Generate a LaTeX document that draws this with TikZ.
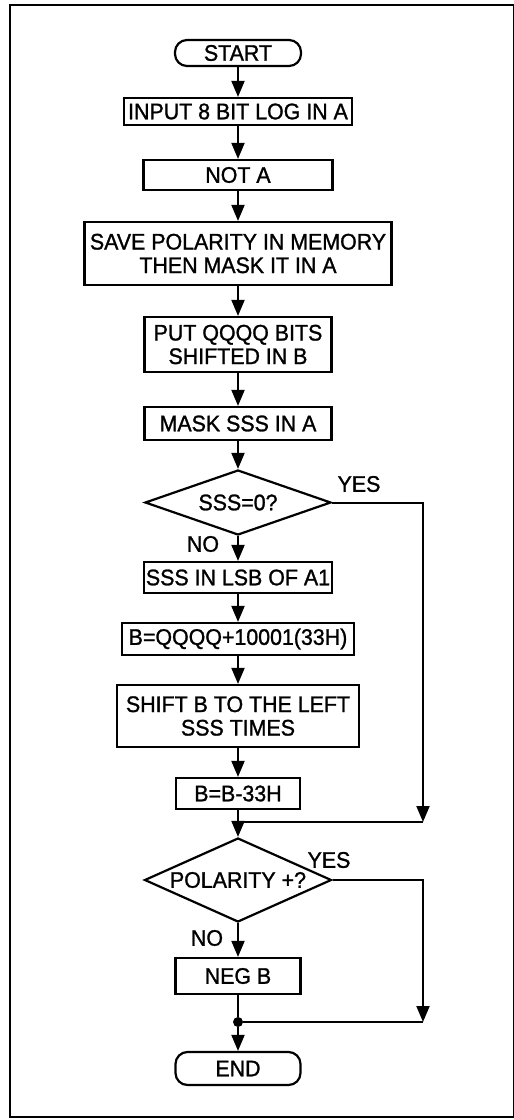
\documentclass[tikz,border=0pt]{standalone}
\usepackage{fontspec}
\setmainfont{Liberation Sans}[FakeBold=1.2,FakeStretch=0.95]
\usetikzlibrary{arrows.meta,shapes.geometric}
\begin{document}
\begin{tikzpicture}[x=1pt,y=-1pt,
  every node/.style={font=\fontsize{22.5}{23.5}\selectfont, inner sep=0pt},
  proc/.style={draw, line width=2.2pt, align=center},
  term/.style={draw, line width=2.2pt, rounded corners=12pt},
  dec/.style={draw, diamond, line width=2.2pt, aspect=2.8},
  flow/.style={line width=2pt, -{Triangle[length=16pt,width=13pt]}},
  conn/.style={line width=2pt}]
\useasboundingbox (0,0) rectangle (514,1120);
\draw[line width=1.5pt] (10,5) rectangle (514,1117);

\node[term, minimum width=126pt, minimum height=26pt] (start) at (238,53) {START};
\node[proc, minimum width=228pt, minimum height=27pt] (input) at (238,111.5) {INPUT 8 BIT LOG IN A};
\node[proc, minimum width=189pt, minimum height=30pt] (nota) at (238,175) {NOT A};
\node[proc, minimum width=307pt, minimum height=63pt] (save) at (238,253.5) {SAVE POLARITY IN MEMORY\\THEN MASK IT IN A};
\node[proc, minimum width=187pt, minimum height=55pt] (put) at (238,344.5) {PUT QQQQ BITS\\SHIFTED IN B};
\node[proc, minimum width=187pt, minimum height=33pt] (mask) at (238,423.5) {MASK SSS IN A};
\node[dec, minimum width=186pt, minimum height=65pt] (d1) at (238,502.5) {SSS=0?};
\node[proc, minimum width=188pt, minimum height=31pt] (sss) at (238,577.5) {SSS IN LSB OF A1};
\node[proc, minimum width=232pt, minimum height=32pt] (bq) at (238,639) {B=QQQQ+10001(33H)};
\node[proc, minimum width=242pt, minimum height=62pt] (shift) at (238,716) {SHIFT B TO THE LEFT\\SSS TIMES};
\node[proc, minimum width=124pt, minimum height=31pt] (bb) at (238,793.5) {B=B-33H};
\node[dec, minimum width=187pt, minimum height=84pt] (d2) at (238,880) {POLARITY +?};
\node[proc, minimum width=125pt, minimum height=36pt] (neg) at (238,976) {NEG B};
\node[term, minimum width=125pt, minimum height=33pt] (end) at (238,1068.5) {END};

\node (yes1) at (359,484) {YES};
\node (no1) at (203,544) {NO};
\node (yes2) at (329,860) {YES};
\node (no2) at (207,938) {NO};

\coordinate (m1) at (238,822);
\coordinate (r1) at (423,822);
\coordinate (r2) at (423,1022);
\node[circle, fill, minimum size=10pt] (dot) at (238,1022) {};

\draw[flow] (start) -- (input);
\draw[flow] (input) -- (nota);
\draw[flow] (nota) -- (save);
\draw[flow] (save) -- (put);
\draw[flow] (put) -- (mask);
\draw[flow] (mask) -- (d1);
\draw[flow] (d1) -- (sss);
\draw[flow] (sss) -- (bq);
\draw[flow] (bq) -- (shift);
\draw[flow] (shift) -- (bb);
\draw[flow] (d1.east) -| (r1);
\draw[conn] (r1) -- (m1);
\draw[flow] (bb) -- (d2);
\draw[flow] (d2) -- (neg);
\draw[flow] (d2.east) -| (r2);
\draw[conn] (r2) -- (dot);
\draw[conn] (neg) -- (dot);
\draw[flow] (dot) -- (end);
\end{tikzpicture}
\end{document}
